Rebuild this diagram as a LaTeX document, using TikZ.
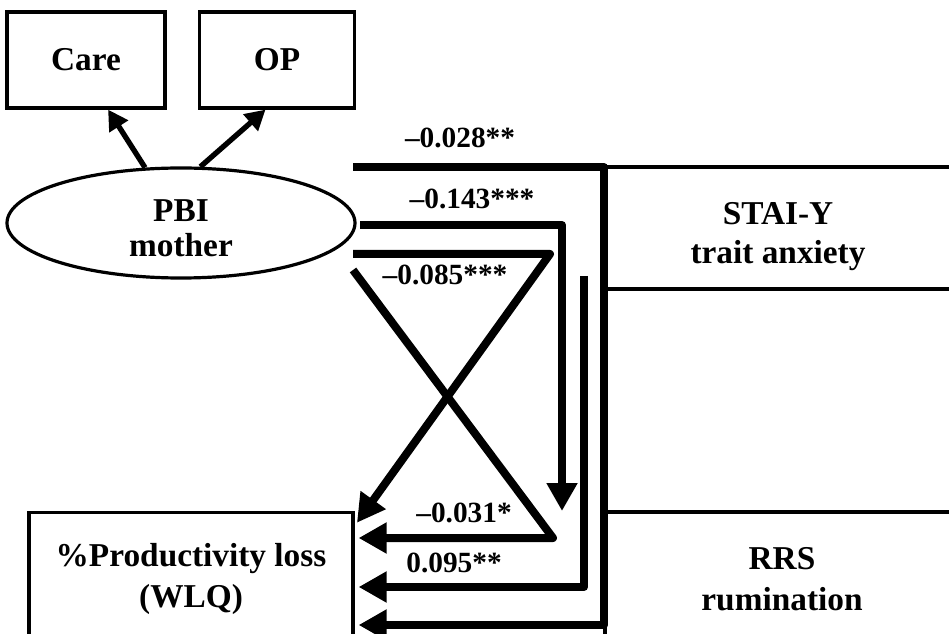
\documentclass[tikz,border=0pt]{standalone}
\usepackage{fontspec}
\setmainfont{Liberation Serif}
\usepackage{tikz}
\usetikzlibrary{arrows.meta,shapes.geometric}

\begin{document}
\begin{tikzpicture}[x=0.75pt, y=-0.75pt,
	box/.style={draw, line width=2.4pt, align=center, inner sep=0pt, font=\fontsize{25}{29}\selectfont\bfseries},
	link/.style={line width=6pt, line join=round, shorten >=3pt, -{Triangle[length=21pt,width=22pt]}},
	coef/.style={font=\fontsize{22}{26}\selectfont\bfseries, inner sep=0pt}]
\useasboundingbox (0,0) rectangle (949,634);
\clip (0,0) rectangle (949,634);

\node [box, minimum width=118.5pt, minimum height=72pt] at (86,60) (care) {Care};
\node [box, minimum width=116pt, minimum height=72pt] at (277,60) (op) {OP};
\node [box, ellipse, minimum width=261pt, minimum height=82.5pt] at (181,223) (pbi) {\rule{0pt}{24pt}PBI\\[-3pt]mother};

\node [box, minimum width=261pt, minimum height=91.5pt] at (778,228) (stai) {\rule{0pt}{29pt}STAI-Y\\trait anxiety};
\node [box, minimum width=265.5pt, minimum height=100.5pt] at (782,579) (rrs) {RRS\\[2pt]rumination};
\node [box, minimum width=243pt, minimum height=95pt] at (191,576) (wlq) {\rule{0pt}{22pt}\%Productivity loss\\[2pt](WLQ)};

\draw [line width=4pt, -{Triangle[length=15pt,width=16pt]}] (pbi.123) -- (care.-66);
\draw [line width=4pt, -{Triangle[length=15pt,width=16pt]}] (pbi.71) -- (op.-103);

% start points of the paths beside the ellipse
\coordinate (s1) at (353,167);
\coordinate (s2) at (360,225);
\coordinate (s3) at (353,254);
\coordinate (s4) at (353,270);
\coordinate (s5) at (584,276);
\coordinate (t2) at (562,511);

\draw [link] (s1) -- (604,167) -- (604,625) -- (wlq.east |- 0,625);
\draw [link, shorten >=0pt] (s2) -- (562,225) -- (t2);
\draw [link] (s3) -- (550,254) -- (wlq.east |- 0,526);
\draw [link] (s4) -- (553,538) -- (wlq.east |- 0,538);
\draw [link] (s5) -- (584,587) -- (wlq.east |- 0,587);

\foreach \x/\y/\val/\nm in {
		460/138/{\textendash0.028**}/ca,
		472/199/{\textendash0.143***}/cb,
		445/275/{\textendash0.085***}/cc,
		464/513/{\textendash0.031*}/cd,
		454/563/{0.095**}/ce
	}
	{
		\node [coef] at (\x,\y) (\nm) {\val};
	}

\end{tikzpicture}
\end{document}
